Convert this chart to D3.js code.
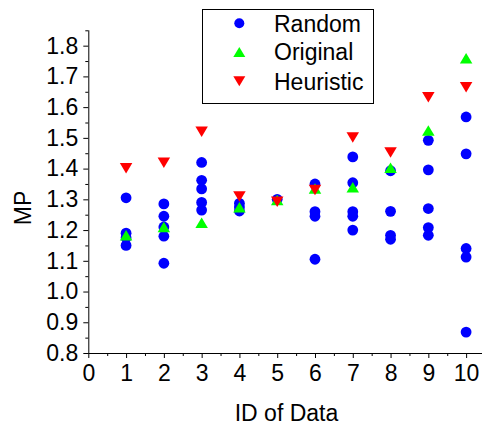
<!DOCTYPE html>
<html>
<head>
    <meta charset="utf-8">
    <script src="https://cdn.jsdelivr.net/npm/d3@7"></script>
    <style>
        * { margin: 0; padding: 0; }
        body { background: #fff; }
        svg { display: block; font-family: "Liberation Sans", Arial, sans-serif; }
    </style>
</head>
<body>
    <svg id="chart" width="482" height="427"></svg>
    <script>
        // data
        var ids = [1, 2, 3, 4, 5, 6, 7, 8, 9, 10];
        var randomMP = [
            [1.305, 1.19, 1.175, 1.15],
            [1.285, 1.245, 1.21, 1.18, 1.092],
            [1.42, 1.362, 1.334, 1.29, 1.265],
            [1.287, 1.275, 1.262],
            [1.30],
            [1.35, 1.26, 1.245, 1.105],
            [1.438, 1.354, 1.26, 1.245, 1.20],
            [1.393, 1.261, 1.183, 1.17],
            [1.492, 1.396, 1.27, 1.208, 1.183],
            [1.568, 1.448, 1.14, 1.112, 0.868]
        ];
        var originalMP = [1.183, 1.21, 1.224, 1.274, 1.298, 1.335, 1.339, 1.403, 1.524, 1.759];
        var heuristicMP = [1.401, 1.419, 1.520, 1.309, 1.292, 1.330, 1.501, 1.452, 1.632, 1.665];
        var xTicks = [0, 1, 2, 3, 4, 5, 6, 7, 8, 9, 10];
        var yTicks = [0.8, 0.9, 1.0, 1.1, 1.2, 1.3, 1.4, 1.5, 1.6, 1.7, 1.8];
        var legendNames = ["Random", "Original", "Heuristic"];

        var svg = d3.select("#chart");

        var x = d3.scaleLinear().domain([0, 10.5]).range([88.3, 485]);
        var y = d3.scaleLinear().domain([0.8, 1.85]).range([353, 30.3]);

        var fontSize = "23px";

        // minor ticks
        var xMinor = d3.range(0.5, 10.5, 1);
        var yMinor = d3.range(0.85, 1.86, 0.1);

        var gx = svg.append("g").attr("transform", "translate(0,353)");
        gx.call(d3.axisBottom(x).tickValues(xTicks).tickSize(5).tickPadding(7)
            .tickFormat(d3.format("d")));
        gx.append("g").call(d3.axisBottom(x).tickValues(xMinor).tickSize(3).tickFormat(""))
            .select(".domain").remove();

        var gy = svg.append("g").attr("transform", "translate(88.3,0)");
        gy.call(d3.axisLeft(y).tickValues(yTicks).tickSize(5).tickPadding(5)
            .tickFormat(d3.format(".1f")));
        gy.append("g").call(d3.axisLeft(y).tickValues(yMinor).tickSize(3).tickFormat(""))
            .select(".domain").remove();

        svg.selectAll(".domain").attr("d", null);
        gx.select(".domain").attr("d", "M" + x(0) + ",0.5H" + x(10.5)).attr("stroke", "#000");
        gy.select(".domain").attr("d", "M0.5," + y(0.8) + "V" + y(1.85)).attr("stroke", "#000");

        svg.selectAll(".tick line").attr("stroke", "#000");
        svg.selectAll(".tick text")
            .style("font-size", fontSize)
            .style("font-family", "Liberation Sans, Arial, sans-serif")
            .attr("fill", "#000");

        // axis titles
        svg.append("text")
            .attr("x", 286.5)
            .attr("y", 420.5)
            .attr("text-anchor", "middle")
            .style("font-size", fontSize)
            .text("ID of Data");

        svg.append("text")
            .attr("transform", "translate(31,208) rotate(-90)")
            .attr("text-anchor", "middle")
            .style("font-size", fontSize)
            .text("MP");

        // marker paths
        function triUp(w, h) {
            return "M0," + (-h / 2) + "L" + (w / 2) + "," + (h / 2) + "L" + (-w / 2) + "," + (h / 2) + "Z";
        }
        function triDown(w, h) {
            return "M0," + (h / 2) + "L" + (w / 2) + "," + (-h / 2) + "L" + (-w / 2) + "," + (-h / 2) + "Z";
        }

        // random points
        var randomPts = [];
        ids.forEach(function (id, i) {
            randomMP[i].forEach(function (v) { randomPts.push({ id: id, v: v }); });
        });

        svg.append("g").selectAll("circle").data(randomPts).enter()
            .append("circle")
            .attr("cx", function (d) { return x(d.id); })
            .attr("cy", function (d) { return y(d.v); })
            .attr("r", 5.4)
            .attr("fill", "#0000ff");

        svg.append("g").selectAll("path").data(originalMP).enter()
            .append("path")
            .attr("d", triUp(12.5, 10.5))
            .attr("transform", function (d, i) { return "translate(" + x(ids[i]) + "," + y(d) + ")"; })
            .attr("fill", "#00ff00");

        svg.append("g").selectAll("path").data(heuristicMP).enter()
            .append("path")
            .attr("d", triDown(12.5, 10.5))
            .attr("transform", function (d, i) { return "translate(" + x(ids[i]) + "," + y(d) + ")"; })
            .attr("fill", "#ff0000");

        // legend
        var legend = svg.append("g");
        legend.append("rect")
            .attr("x", 202.5).attr("y", 9.5)
            .attr("width", 171).attr("height", 94)
            .attr("fill", "#fff").attr("stroke", "#000").attr("stroke-width", 1);

        var rowY = [23.3, 52, 81.3];
        var colors = ["#0000ff", "#00ff00", "#ff0000"];
        legendNames.forEach(function (name, i) {
            if (i == 0) {
                legend.append("circle").attr("cx", 239.3).attr("cy", rowY[i]).attr("r", 5)
                    .attr("fill", colors[i]);
            } else {
                legend.append("path")
                    .attr("d", i == 1 ? triUp(12, 10) : triDown(12, 10))
                    .attr("transform", "translate(239.3," + rowY[i] + ")")
                    .attr("fill", colors[i]);
            }
            legend.append("text")
                .attr("x", 274)
                .attr("y", rowY[i] + 8.3)
                .style("font-size", fontSize)
                .text(name);
        });
    </script>
</body>
</html>
